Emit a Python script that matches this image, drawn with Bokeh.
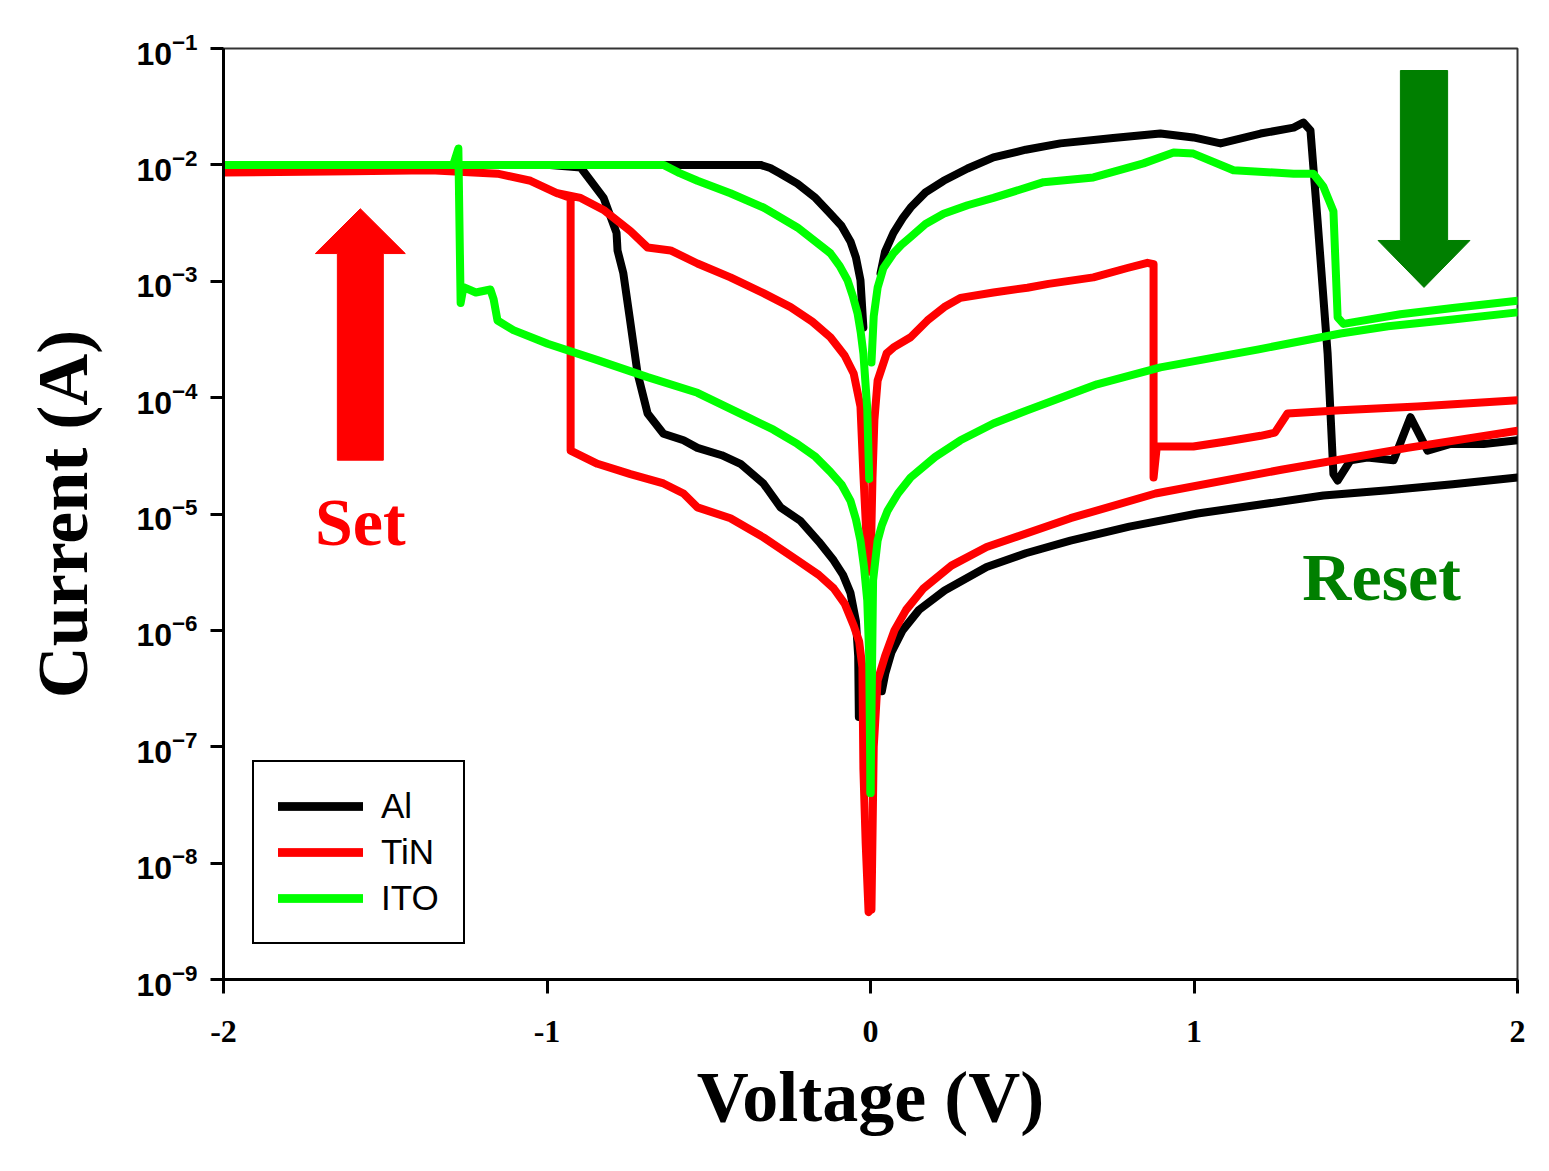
from bokeh.plotting import figure
from bokeh.models import FixedTicker, LogTickFormatter, Label
from bokeh.embed import file_html
from bokeh.resources import INLINE

# ---------------- data (Voltage in V, Current in A) ----------------
x_ticks = [-2, -1, 0, 1, 2]
x_tick_labels = ["-2", "-1", "0", "1", "2"]
y_ticks = [1e-9, 1e-8, 1e-7, 1e-6, 1e-5, 1e-4, 1e-3, 1e-2, 1e-1]

series_names = ["Al", "TiN", "ITO"]

# Al : positive sweep out (LRS -> reset -> HRS up to +2 V)
al_out_v = [0.031, 0.045, 0.071, 0.10, 0.124, 0.17, 0.226, 0.30, 0.380, 0.48, 0.587, 0.75, 0.896, 0.998, 1.082,
            1.206, 1.308, 1.338, 1.360,
            1.382, 1.413, 1.431, 1.444, 1.484, 1.536, 1.617, 1.669, 1.722, 1.793, 1.895, 2.0]
al_out_i = [1.17e-3, 1.8e-3, 2.6e-3, 3.5e-3, 4.3e-3, 5.8e-3, 7.3e-3, 9.3e-3, 1.16e-2, 1.35e-2, 1.53e-2, 1.7e-2, 1.86e-2,
            1.72e-2, 1.53e-2,
            1.86e-2, 2.09e-2, 2.31e-2, 1.98e-2,
            3.3e-3, 2.4e-4, 2.2e-5, 1.94e-5, 2.9e-5, 3.06e-5, 2.9e-5, 6.8e-5, 3.5e-5, 4.0e-5, 4.0e-5, 4.3e-5]
# Al : positive sweep return (HRS, +2 V -> 0)
al_ret_v = [2.0, 1.8, 1.6, 1.4, 1.2, 1.011, 0.8, 0.618, 0.48, 0.359, 0.229, 0.15, 0.099, 0.065, 0.046, 0.035]
al_ret_i = [2.06e-5, 1.8e-5, 1.6e-5, 1.44e-5, 1.2e-5, 1.01e-5, 7.8e-6, 5.9e-6, 4.6e-6, 3.5e-6, 2.2e-6, 1.5e-6,
            1.0e-6, 6.5e-7, 4.3e-7, 3.0e-7]
# Al : negative sweep (HRS -> set -> compliance -> LRS return)
al_neg_v = [-0.036, -0.038, -0.045, -0.062, -0.085, -0.114, -0.16, -0.216, -0.278, -0.331, -0.402, -0.46, -0.535,
            -0.578, -0.640, -0.689, -0.720, -0.745, -0.764, -0.782, -0.785, -0.825, -0.896, -1.0, -2.0,
            -1.0, -0.34, -0.31, -0.278, -0.226, -0.17, -0.124, -0.09, -0.062, -0.045, -0.031, -0.022]
al_neg_i = [1.8e-7, 6e-7, 1.2e-6, 2.1e-6, 3.0e-6, 4.0e-6, 5.8e-6, 8.7e-6, 1.14e-5, 1.83e-5, 2.7e-5, 3.2e-5, 3.7e-5,
            4.3e-5, 4.9e-5, 7.3e-5, 1.61e-4, 5e-4, 1.17e-3, 1.84e-3, 2.6e-3, 5.2e-3, 9.5e-3, 1.0e-2, 1.0e-2,
            1.0e-2, 1.0e-2, 9.4e-3, 8.4e-3, 6.9e-3, 5.2e-3, 3.8e-3, 3.0e-3, 2.2e-3, 1.6e-3, 1.02e-3, 4.0e-4]

# TiN
tin_neg_v = [0.0, -0.006, -0.015, -0.022, -0.025, -0.035, -0.052, -0.08, -0.114, -0.16, -0.226, -0.331, -0.433,
             -0.535, -0.578, -0.640, -0.742, -0.844, -0.927, -0.927, -0.968, -1.051, -1.153, -1.36, -1.6, -2.0,
             -1.6, -1.36, -1.153, -1.051, -0.968, -0.896, -0.825, -0.742, -0.689, -0.618, -0.535, -0.433,
             -0.331, -0.247, -0.18, -0.124, -0.08, -0.052, -0.031, -0.022, -0.012, -0.006]
tin_neg_i = [4e-9, 3.8e-9, 1.5e-8, 6.5e-8, 4.8e-7, 8e-7, 1.1e-6, 1.7e-6, 2.3e-6, 3.0e-6, 4.0e-6, 6.3e-6, 9.2e-6,
             1.14e-5, 1.5e-5, 1.83e-5, 2.2e-5, 2.7e-5, 3.5e-5, 5.2e-3, 5.7e-3, 7.3e-3, 8.4e-3, 9.0e-3, 8.8e-3, 8.6e-3,
             8.8e-3, 9.0e-3, 8.4e-3, 7.3e-3, 5.7e-3, 5.2e-3, 4.1e-3, 2.7e-3, 1.95e-3, 1.84e-3, 1.42e-3, 1.08e-3,
             7.9e-4, 6.0e-4, 4.5e-4, 3.3e-4, 2.3e-4, 1.61e-4, 8.4e-5, 2.2e-5, 6e-6, 3.2e-6]
tin_out_v = [0.0, 0.006, 0.012, 0.022, 0.05, 0.071, 0.124, 0.176, 0.228, 0.278, 0.38, 0.485, 0.55, 0.689, 0.794,
             0.856, 0.875, 0.875, 0.885, 0.896, 0.998, 1.1, 1.206, 1.25, 1.289, 1.453, 1.691, 2.0]
tin_out_i = [3.2e-6, 2e-5, 6.4e-5, 1.4e-4, 2.4e-4, 2.7e-4, 3.3e-4, 4.6e-4, 6.0e-4, 7.2e-4, 8.0e-4, 8.8e-4, 9.5e-4,
             1.08e-3, 1.3e-3,
             1.44e-3, 1.4e-3, 2.06e-5, 3.8e-5, 3.8e-5, 3.8e-5, 4.2e-5, 4.7e-5, 5.0e-5, 7.3e-5, 7.8e-5, 8.4e-5, 9.5e-5]
tin_ret_v = [2.0, 1.660, 1.270, 0.881, 0.618, 0.359, 0.25, 0.164, 0.11, 0.074, 0.045, 0.022, 0.01, 0.003]
tin_ret_i = [5.2e-5, 3.7e-5, 2.4e-5, 1.5e-5, 9.2e-6, 5.2e-6, 3.6e-6, 2.3e-6, 1.5e-6, 1.0e-6, 6e-7, 3.7e-7, 1e-7, 4e-9]

# ITO
ito_out_v = [0.003, 0.01, 0.022, 0.04, 0.071, 0.095, 0.124, 0.17, 0.226, 0.30, 0.380, 0.535, 0.689, 0.844, 0.937,
             0.998, 1.122, 1.308, 1.369, 1.40, 1.431, 1.444, 1.462, 1.638, 1.8, 2.0]
ito_out_i = [2.0e-4, 5e-4, 8.8e-4, 1.3e-3, 1.74e-3, 2.05e-3, 2.4e-3, 3.1e-3, 3.8e-3, 4.5e-3, 5.2e-3, 7.1e-3, 7.8e-3,
             1.03e-2, 1.28e-2,
             1.25e-2, 9.0e-3, 8.4e-3, 8.4e-3, 6.5e-3, 4.0e-3, 4.9e-4, 4.3e-4, 5.2e-4, 5.9e-4, 6.8e-4]
ito_ret_v = [2.0, 1.8, 1.6, 1.453, 1.2, 0.896, 0.7, 0.485, 0.38, 0.278, 0.2, 0.124, 0.085, 0.053, 0.035, 0.022,
             0.008, 0.0]
ito_ret_i = [5.4e-4, 4.7e-4, 4.1e-4, 3.56e-4, 2.6e-4, 1.82e-4, 1.3e-4, 7.8e-5, 6.0e-5, 4.3e-5, 3.1e-5, 2.06e-5,
             1.5e-5, 1.07e-5, 8e-6, 5.9e-6, 2.7e-6, 4e-8]
ito_neg_v = [0.0, -0.004, -0.01, -0.02, -0.031, -0.045, -0.062, -0.09, -0.124, -0.17, -0.226, -0.30, -0.380, -0.535,
             -0.689, -0.844, -0.998, -1.104, -1.153, -1.165, -1.175, -1.22, -1.258, -1.267, -1.274, -1.29, -1.5, -2.0,
             -1.0, -0.64, -0.59, -0.535, -0.433, -0.331, -0.226, -0.124, -0.095, -0.071, -0.055, -0.040, -0.03,
             -0.022, -0.01, -0.004]
ito_neg_i = [4e-8, 6e-7, 1.8e-6, 3.5e-6, 5.9e-6, 9e-6, 1.3e-5, 1.8e-5, 2.3e-5, 3.1e-5, 4.0e-5, 5.3e-5, 6.8e-5, 1.1e-4,
             1.5e-4, 2.1e-4, 2.9e-4, 3.8e-4, 4.6e-4, 7.0e-4, 8.5e-4, 8.0e-4, 8.9e-4, 6.5e-4, 1.38e-2, 1.0e-2, 1.0e-2,
             1.0e-2,
             1.0e-2, 1.0e-2, 8.5e-3, 7.3e-3, 5.7e-3, 4.3e-3, 2.9e-3, 1.74e-3, 1.35e-3, 1.02e-3, 7.5e-4, 5.3e-4, 3.6e-4,
             2.4e-4, 8e-5, 2e-5]

# ---------------- annotation geometry (data units) ----------------
SET_ARROW = dict(x=-1.577, shaft=0.071, head=0.139, tip=4.2e-3, base=1.73e-3, end=2.9e-5)
RESET_ARROW = dict(x=1.711, shaft=0.073, head=0.142, tip=8.85e-4, base=2.24e-3, end=6.47e-2)
SET_TEXT = dict(x=-1.577, y=8.6e-6)
RESET_TEXT = dict(x=1.58, y=2.85e-6)

RED = "#ff0000"
GREEN_LINE = "#00ff00"
DARK_GREEN = "#007f00"

p = figure(width=1541, height=1163, x_range=(-2, 2), y_range=(1e-9, 1e-1), y_axis_type="log",
           output_backend="svg", toolbar_location=None,
           min_border_left=223, min_border_right=24, min_border_top=48, min_border_bottom=184)

p.xgrid.visible = False
p.ygrid.visible = False
p.outline_line_color = "#333333"
p.outline_line_width = 2


def arrow(a, color):
    xs = [a["x"] - a["shaft"], a["x"] - a["shaft"], a["x"] - a["head"], a["x"],
          a["x"] + a["head"], a["x"] + a["shaft"], a["x"] + a["shaft"]]
    ys = [a["end"], a["base"], a["base"], a["tip"], a["base"], a["base"], a["end"]]
    p.patch(xs, ys, fill_color=color, line_color=color, line_width=1)


arrow(SET_ARROW, RED)
arrow(RESET_ARROW, DARK_GREEN)

LW = 8
style = dict(line_width=LW, line_join="round", line_cap="round")
for v, i in ((al_out_v, al_out_i), (al_ret_v, al_ret_i), (al_neg_v, al_neg_i)):
    p.line(v, i, line_color="black", legend_label=series_names[0], **style)
for v, i in ((tin_neg_v, tin_neg_i), (tin_out_v, tin_out_i), (tin_ret_v, tin_ret_i)):
    p.line(v, i, line_color=RED, legend_label=series_names[1], **style)
for v, i in ((ito_out_v, ito_out_i), (ito_ret_v, ito_ret_i), (ito_neg_v, ito_neg_i)):
    p.line(v, i, line_color=GREEN_LINE, legend_label=series_names[2], **style)

p.add_layout(Label(x=SET_TEXT["x"], y=SET_TEXT["y"], text="Set", text_align="center", text_baseline="middle",
                   text_font="Liberation Serif", text_font_style="bold", text_font_size="68px", text_color=RED))
p.add_layout(Label(x=RESET_TEXT["x"], y=RESET_TEXT["y"], text="Reset", text_align="center", text_baseline="middle",
                   text_font="Liberation Serif", text_font_style="bold", text_font_size="68px", text_color=DARK_GREEN))

# axes
for ax in (p.xaxis[0], p.yaxis[0]):
    ax.axis_line_width = 3
    ax.axis_line_color = "black"
    ax.major_tick_line_width = 3
    ax.major_tick_line_color = "black"
    ax.major_tick_in = 0
    ax.minor_tick_line_color = None
    ax.major_label_text_color = "black"
    ax.axis_label_text_font = "Liberation Serif"
    ax.axis_label_text_font_style = "bold"
    ax.axis_label_text_font_size = "72px"
    ax.axis_label_text_color = "black"

p.xaxis.ticker = FixedTicker(ticks=x_ticks)
p.xaxis.major_label_overrides = dict(zip(x_ticks, x_tick_labels))
p.xaxis.major_tick_out = 14
p.xaxis.major_label_text_font = "Liberation Serif"
p.xaxis.major_label_text_font_style = "bold"
p.xaxis.major_label_text_font_size = "32px"
p.xaxis.major_label_standoff = 27
p.xaxis.axis_label = "Voltage (V)"
p.xaxis.axis_label_standoff = 12

p.yaxis.ticker = FixedTicker(ticks=y_ticks)
p.yaxis.formatter = LogTickFormatter()
p.yaxis.major_tick_out = 13
p.yaxis.major_label_text_font = "Liberation Sans"
p.yaxis.major_label_text_font_style = "bold"
p.yaxis.major_label_text_font_size = "32px"
p.yaxis.major_label_standoff = 13
p.yaxis.axis_label = "Current (A)"
p.yaxis.axis_label_standoff = 30

# legend
lg = p.legend[0]
lg.location = (29, 35)
lg.border_line_color = "black"
lg.border_line_width = 2
lg.border_line_alpha = 1
lg.background_fill_color = "white"
lg.background_fill_alpha = 1
lg.padding = 24
lg.spacing = 6
lg.margin = 0
lg.glyph_width = 85
lg.glyph_height = 40
lg.label_height = 40
lg.label_standoff = 18
lg.label_text_font = "Liberation Sans"
lg.label_text_font_size = "35px"
lg.label_text_color = "black"

open("out.html", "w").write(file_html(p, INLINE))
